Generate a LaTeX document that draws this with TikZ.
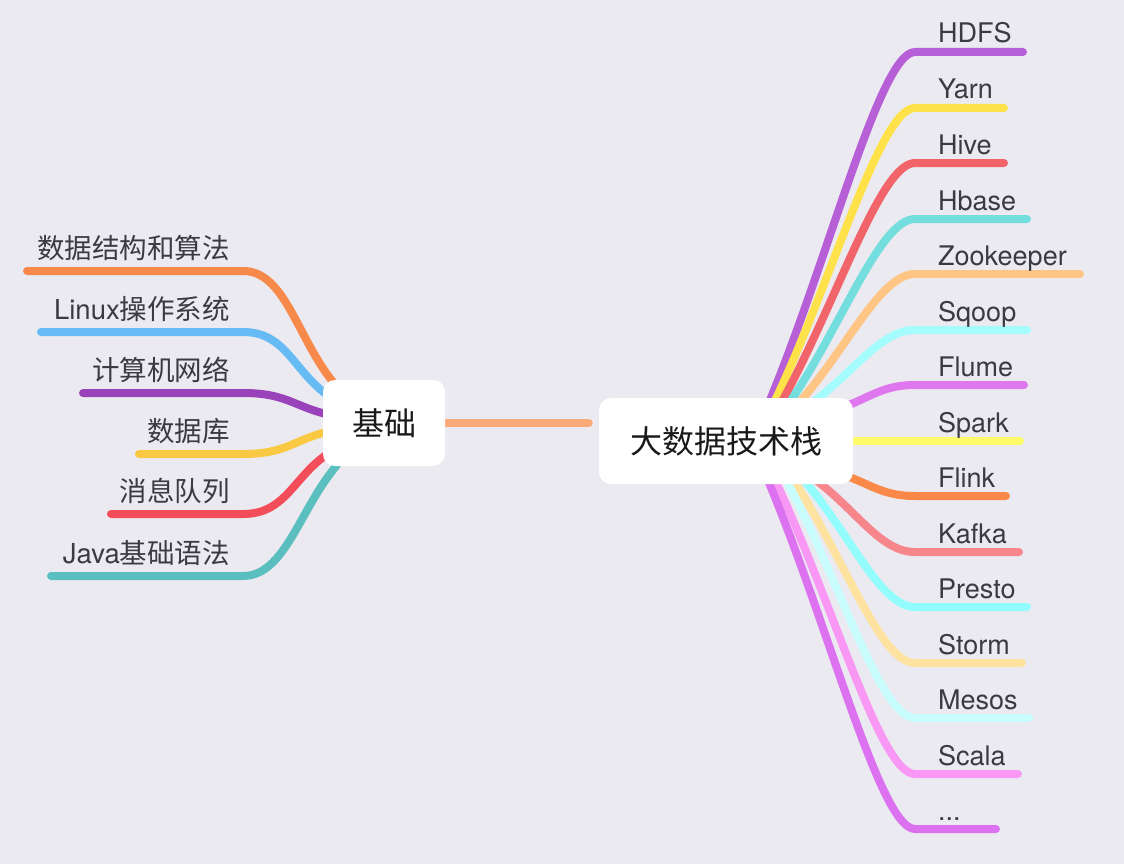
\documentclass[tikz,border=0pt]{standalone}
\usepackage{fontspec}
\setmainfont{TeX Gyre Heros}
\newfontfamily\cjk{Noto Sans CJK SC}
\usetikzlibrary{calc}
\pgfdeclarelayer{back}
\pgfdeclarelayer{lines}
\pgfsetlayers{back,lines,main}
\definecolor{bgc}{HTML}{EBEAF1}
\definecolor{txt}{HTML}{3A3A42}
\definecolor{mid}{HTML}{FCAA78}
\definecolor{lo}{HTML}{F78A4A}
\definecolor{lb}{HTML}{66BBF5}
\definecolor{lp}{HTML}{9942B9}
\definecolor{ly}{HTML}{FAC943}
\definecolor{lr}{HTML}{F44D5A}
\definecolor{lt}{HTML}{5BBFC0}
\definecolor{r1}{HTML}{B65FD6}
\definecolor{r2}{HTML}{FFE24A}
\definecolor{r3}{HTML}{F0646A}
\definecolor{r4}{HTML}{74DEDE}
\definecolor{r5}{HTML}{FFC584}
\definecolor{r6}{HTML}{A5FCFC}
\definecolor{r7}{HTML}{DF78EE}
\definecolor{r8}{HTML}{FDFB68}
\definecolor{r9}{HTML}{FA8848}
\definecolor{r10}{HTML}{F7868C}
\definecolor{r11}{HTML}{93FDFD}
\definecolor{r12}{HTML}{FEE3A0}
\definecolor{r13}{HTML}{C9FDFD}
\definecolor{r14}{HTML}{F897F4}
\definecolor{r15}{HTML}{DC72F0}
\tikzset{
  branch/.style={line width=8pt, line cap=round, line join=round},
  centerbox/.style={fill=white, rounded corners=12pt, inner sep=0pt, text=black!90,
    font=\cjk\fontsize{32}{38}\selectfont},
  llabel/.style={anchor=base east, inner sep=0pt, text=txt, font=\fontsize{27.5}{32}\selectfont},
  rlabel/.style={anchor=base west, inner sep=0pt, text=txt, font=\fontsize{27}{32}\selectfont}
}
\begin{document}
\begin{tikzpicture}[x=1pt,y=-1pt]
\useasboundingbox (0,0) rectangle (1124,864);
\begin{pgfonlayer}{back}
\fill[bgc] (0,0) rectangle (1124,864);
\end{pgfonlayer}

\node[centerbox, minimum width=122, minimum height=86] (ji) at (384,423) {基础};
\node[centerbox, minimum width=254, minimum height=86] (big) at (726,441) {大数据技术栈};

\begin{pgfonlayer}{lines}
\draw[branch, mid, shorten >=10pt] (ji.east) -- (ji.east -| big.west);

\foreach \n/\c/\xl/\yy/\ex/\ey/\t in {
  1/lo/27/271/333/382/{\cjk 数据结构和算法},
  2/lb/41/332/326/394/{Linux\cjk 操作系统},
  3/lp/83/393/326/414/{\cjk 计算机网络},
  4/ly/139/454/326/432/{\cjk 数据库},
  5/lr/111/514/326/455/{\cjk 消息队列},
  6/lt/51/576/337/465/{Java\cjk 基础语法}} {
  \coordinate (la\n) at (\xl,\yy);
  \coordinate (lm\n) at (243,\yy);
  \coordinate (lb\n) at (\ex,\ey);
  \draw[branch, \c] (la\n) -- (lm\n) .. controls ($(lm\n)+(42,0)$) and ($(lb\n)!0.4!(lm\n)$) .. (lb\n);
  \node[llabel] (L\n) at (230,\yy-13) {\t};
}

\foreach \n/\c/\sx/\sy/\yy/\xe/\t in {
  1/r1/768/405/52/1023/HDFS,
  2/r2/773/405/108/1004/Yarn,
  3/r3/780/405/163/1004/Hive,
  4/r4/788/405/219/1027/Hbase,
  5/r5/797/405/274/1080/Zookeeper,
  6/r6/809/405/330/1027/Sqoop,
  7/r7/835/410/385/1024/Flume,
  9/r9/835/472/496/1006/Flink,
  10/r10/813/478/552/1019/Kafka,
  11/r11/802/478/607/1027/Presto,
  12/r12/792/478/663/1022/Storm,
  13/r13/785/478/718/1029/Mesos,
  14/r14/774/478/774/1018/Scala} {
  \coordinate (rs\n) at (\sx,\sy);
  \coordinate (rk\n) at (915,\yy);
  \coordinate (re\n) at (\xe,\yy);
  \draw[branch, \c] (rs\n) .. controls ($(rs\n)!0.42!(rk\n)$) and ($(rk\n)+(-35,0)$) .. (rk\n) -- (re\n);
  \node[rlabel] (R\n) at (938,\yy-9) {\t};
}
\coordinate (rs15) at (767,478);
\coordinate (rk15) at (915,829);
\coordinate (re15) at (996,829);
\draw[branch, r15] (rs15) .. controls ($(rs15)!0.42!(rk15)$) and ($(rk15)+(-35,0)$) .. (rk15) -- (re15);
\node[rlabel] (R15) at (938,829-9) {...};
\coordinate (rs8) at (840,441);
\coordinate (re8) at (1020,441);
\draw[branch, r8] (rs8) -- (re8);
\node[rlabel] (R8) at (938,441-9) {Spark};
\end{pgfonlayer}
\end{tikzpicture}
\end{document}
